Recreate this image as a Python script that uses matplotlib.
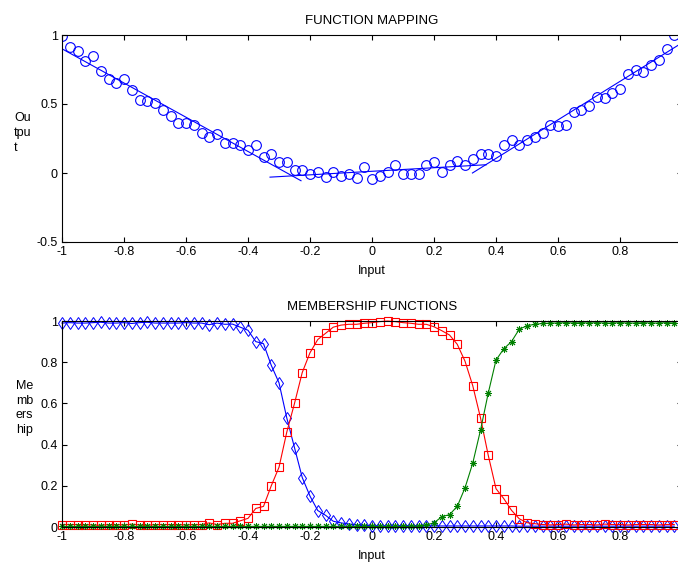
import numpy as np
import matplotlib
matplotlib.use('Agg')
import matplotlib.pyplot as plt

plt.rcParams['font.family'] = ['Liberation Sans', 'DejaVu Sans']
plt.rcParams['font.size'] = 9

# sample inputs, -1 to 0.975 in steps of 0.025
x = np.round(np.arange(80) * 0.025 - 1.0, 3)

# noisy target values
y_data = [0.995, 0.915, 0.886, 0.81, 0.845, 0.74, 0.68, 0.65, 0.68, 0.60,
          0.53, 0.52, 0.505, 0.455, 0.41, 0.36, 0.36, 0.345, 0.29, 0.26,
          0.28, 0.215, 0.22, 0.20, 0.17, 0.20, 0.115, 0.135, 0.08, 0.08,
          0.02, 0.02, -0.005, 0.005, -0.03, 0.01, -0.025, -0.005, -0.035, 0.04,
          -0.04, -0.02, 0.01, 0.055, -0.005, -0.005, -0.005, 0.055, 0.08, 0.01,
          0.055, 0.09, 0.06, 0.10, 0.14, 0.14, 0.12, 0.20, 0.24, 0.20,
          0.24, 0.26, 0.29, 0.345, 0.34, 0.35, 0.44, 0.46, 0.485, 0.55,
          0.54, 0.58, 0.61, 0.715, 0.75, 0.73, 0.78, 0.82, 0.90, 1.0]

# local linear models (start/end points)
model_x = [[-1.0, -0.229], [-0.329, 0.369], [0.324, 1.0]]
model_y = [[0.90, -0.056], [-0.03, 0.06], [0.0, 0.943]]

# membership values
mf_low = [0.990, 0.992, 0.990, 0.990, 0.992, 0.994, 0.990, 0.990, 0.992, 0.988,
          0.992, 0.994, 0.990, 0.990, 0.990, 0.990, 0.992, 0.990, 0.990, 0.982,
          0.990, 0.984, 0.985, 0.970, 0.955, 0.900, 0.890, 0.785, 0.700, 0.530,
          0.385, 0.240, 0.150, 0.080, 0.057, 0.028, 0.020, 0.015, 0.010, 0.008,
          0.006, 0.005, 0.005, 0.005, 0.006, 0.005, 0.005, 0.005, 0.005, 0.005,
          0.005, 0.005, 0.005, 0.005, 0.005, 0.005, 0.005, 0.005, 0.005, 0.004,
          0.004, 0.004, 0.004, 0.004, 0.004, 0.004, 0.004, 0.004, 0.004, 0.004,
          0.004, 0.004, 0.004, 0.004, 0.004, 0.004, 0.004, 0.004, 0.004, 0.004]
mf_mid = [0.012, 0.012, 0.012, 0.012, 0.010, 0.008, 0.012, 0.012, 0.010, 0.014,
          0.010, 0.008, 0.012, 0.012, 0.012, 0.012, 0.010, 0.012, 0.012, 0.020,
          0.012, 0.018, 0.018, 0.030, 0.042, 0.090, 0.100, 0.200, 0.290, 0.460,
          0.600, 0.750, 0.846, 0.910, 0.940, 0.970, 0.980, 0.984, 0.984, 0.989,
          0.992, 0.997, 1.000, 0.997, 0.992, 0.989, 0.984, 0.984, 0.972, 0.953,
          0.932, 0.887, 0.805, 0.686, 0.530, 0.348, 0.186, 0.138, 0.081, 0.040,
          0.021, 0.016, 0.012, 0.010, 0.012, 0.014, 0.010, 0.012, 0.012, 0.010,
          0.014, 0.012, 0.012, 0.010, 0.012, 0.012, 0.012, 0.010, 0.012, 0.012]
mf_high = [0.003, 0.003, 0.003, 0.003, 0.003, 0.003, 0.003, 0.003, 0.003, 0.003,
           0.003, 0.003, 0.003, 0.003, 0.003, 0.003, 0.003, 0.003, 0.003, 0.003,
           0.003, 0.003, 0.003, 0.003, 0.003, 0.003, 0.003, 0.003, 0.003, 0.003,
           0.003, 0.003, 0.003, 0.003, 0.003, 0.003, 0.003, 0.003, 0.003, 0.003,
           0.003, 0.003, 0.003, 0.003, 0.003, 0.004, 0.005, 0.010, 0.020, 0.050,
           0.060, 0.100, 0.190, 0.310, 0.470, 0.650, 0.810, 0.865, 0.900, 0.960,
           0.977, 0.984, 0.988, 0.990, 0.990, 0.992, 0.990, 0.992, 0.990, 0.992,
           0.990, 0.990, 0.992, 0.990, 0.990, 0.992, 0.990, 0.990, 0.992, 0.990]

W, H = 678, 565
fig = plt.figure(figsize=(W / 100, H / 100), dpi=100)

def make_axes(top_px, bottom_px):
    left, right = 62, 682
    ax = fig.add_axes([left / W, 1 - bottom_px / H, (right - left) / W, (bottom_px - top_px) / H])
    ax.tick_params(direction='in', top=True, right=True, length=3.5, width=0.8, pad=3)
    for s in ax.spines.values():
        s.set_linewidth(0.8)
    ax.set_xlim(-1, 1)
    ax.set_xticks([-1, -0.8, -0.6, -0.4, -0.2, 0, 0.2, 0.4, 0.6, 0.8])
    ax.set_xticklabels(['-1', '-0.8', '-0.6', '-0.4', '-0.2', '0', '0.2', '0.4', '0.6', '0.8'])
    ax.set_xlabel('Input', labelpad=5)
    return ax

# top: function mapping
ax1 = make_axes(35, 242)
ax1.plot(x, y_data, 'o', color='blue', mfc='none', ms=7, mew=0.8)
for mx, my in zip(model_x, model_y):
    ax1.plot(mx, my, '-', color='blue', lw=0.8)
ax1.set_ylim(-0.5, 1)
ax1.set_yticks([-0.5, 0, 0.5, 1])
ax1.set_yticklabels(['-0.5', '0', '0.5', '1'])
ax1.set_title('FUNCTION MAPPING', fontsize=9.5, pad=8)
fig.text(14 / W, 1 - 133 / H, 'Ou\ntpu\nt', ha='left', va='center', linespacing=1.3)

# bottom: membership functions
ax2 = make_axes(321, 527)
ax2.plot(x, mf_low, '-d', color='blue', mfc='none', ms=6.5, mew=0.7, lw=0.8, clip_on=False)
ax2.plot(x, mf_mid, '-s', color='red', mfc='none', ms=6, mew=0.8, lw=0.8, clip_on=False)
ax2.plot(x, mf_high, '-', marker=(8, 2, 0), color='green', ms=5, mew=0.7, lw=0.8, clip_on=False)
ax2.set_ylim(0, 1)
ax2.set_yticks([0, 0.2, 0.4, 0.6, 0.8, 1])
ax2.set_yticklabels(['0', '0.2', '0.4', '0.6', '0.8', '1'])
ax2.set_title('MEMBERSHIP FUNCTIONS', fontsize=9.5, pad=8)
fig.text(16 / W, 1 - 408 / H, 'Me\nmb\ners\nhip', ha='left', va='center', linespacing=1.3)

fig.savefig('out.png', dpi=100)
